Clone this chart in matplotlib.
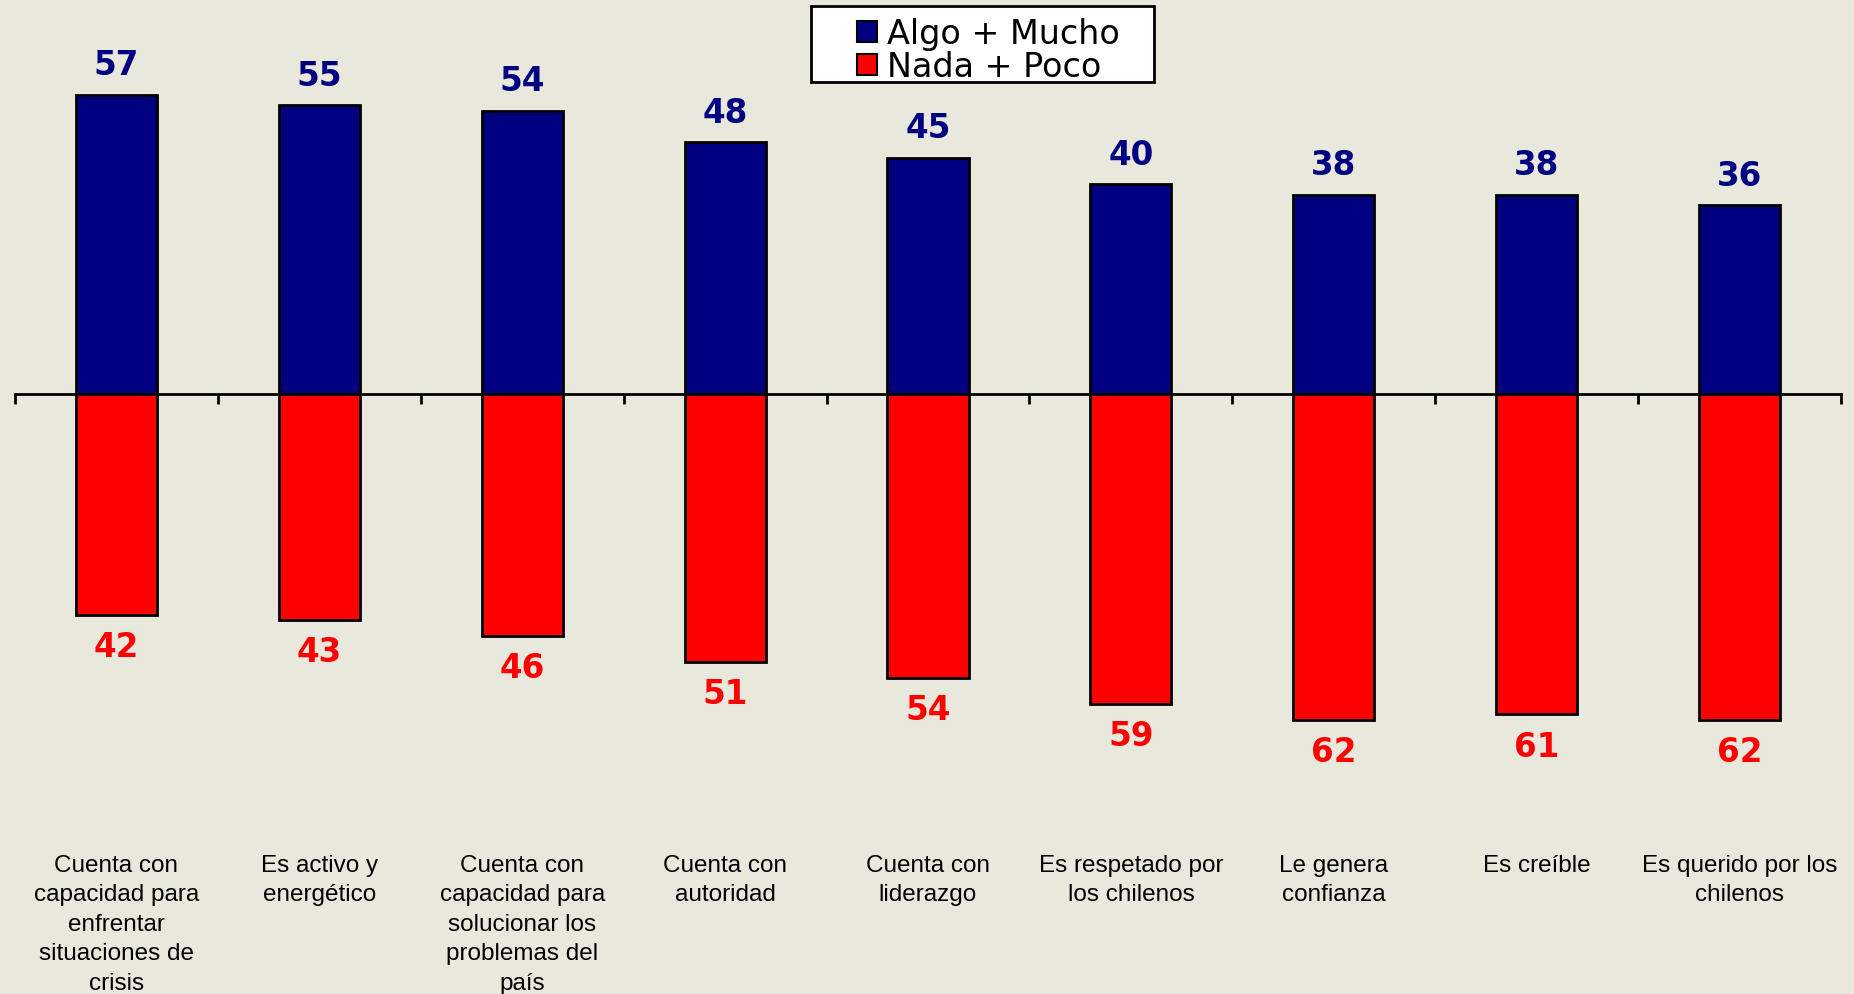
import matplotlib
matplotlib.use("Agg")
import matplotlib.pyplot as plt
from matplotlib.patches import Rectangle, Patch
import numpy as np

categories = [
    "Cuenta con\ncapacidad para\nenfrentar\nsituaciones de\ncrisis",
    "Es activo y\nenergético",
    "Cuenta con\ncapacidad para\nsolucionar los\nproblemas del\npaís",
    "Cuenta con\nautoridad",
    "Cuenta con\nliderazgo",
    "Es respetado por\nlos chilenos",
    "Le genera\nconfianza",
    "Es creíble",
    "Es querido por los\nchilenos",
]
algo_mucho = [57, 55, 54, 48, 45, 40, 38, 38, 36]
nada_poco = [42, 43, 46, 51, 54, 59, 62, 61, 62]
series_names = ["Algo + Mucho", "Nada + Poco"]

BG = "#E9E8DD"
BLUE = "#000080"
RED = "#FF0000"

W, H = 1854, 995
fig = plt.figure(figsize=(W / 100, H / 100), dpi=100, facecolor=BG)
ytop, ybot = 75, -75
ppu = 5.25
top_px = 395 - ytop * ppu
bot_px = 395 - ybot * ppu
ax = fig.add_axes([15 / W, 1 - bot_px / H, (1841 - 15) / W, (bot_px - top_px) / H])
ax.set_facecolor(BG)
ax.patch.set_alpha(0)

x = np.arange(len(categories))
neg = [-v for v in nada_poco]
ax.bar(x, algo_mucho, width=0.4, color=BLUE, edgecolor="black", linewidth=2, zorder=2)
ax.bar(x, neg, width=0.4, color=RED, edgecolor="black", linewidth=2, zorder=2)

ax.set_xlim(-0.5, len(categories) - 0.5)
ax.set_ylim(ybot, ytop)

for s in ["top", "right", "left"]:
    ax.spines[s].set_visible(False)
ax.spines["bottom"].set_position(("data", 0))
ax.spines["bottom"].set_linewidth(2)
ax.spines["bottom"].set_zorder(3)
ax.set_yticks([])

ax.set_xticks(x)
ax.set_xticklabels(categories, fontsize=17.5, family="Liberation Sans", linespacing=1.44,
                   va="top", ha="center")
ax.tick_params(axis="x", which="major", length=0, pad=331)
ax.set_xticks(np.arange(-0.5, len(categories), 1.0), minor=True)
ax.tick_params(axis="x", which="minor", length=7, width=2, direction="out", color="black")

for xi, v in zip(x, algo_mucho):
    ax.annotate(f"{v}", (xi, v), xytext=(0, 21.5), textcoords="offset points",
                ha="center", va="center", fontsize=23.5, fontweight="bold", color=BLUE)
for xi, v in zip(x, neg):
    ax.annotate(f"{-v}", (xi, v), xytext=(0, -23), textcoords="offset points",
                ha="center", va="center", fontsize=23.5, fontweight="bold", color=RED)

fig.patches.append(Rectangle((811 / W, 1 - 83 / H), (1154 - 811) / W, (83 - 7) / H,
                             transform=fig.transFigure, facecolor="white",
                             edgecolor="black", linewidth=2, zorder=5))
handles = [Patch(facecolor=BLUE, edgecolor="black", linewidth=1.5),
           Patch(facecolor=RED, edgecolor="black", linewidth=1.5)]
leg = fig.legend(handles, series_names, loc="center left",
                 bbox_to_anchor=(840 / W, 1 - 51 / H), frameon=False,
                 fontsize=24, handlelength=0.6, handleheight=0.6,
                 handletextpad=0.3, labelspacing=0.0, borderpad=0.0)
leg.set_zorder(6)

fig.savefig("out.png", dpi=100, facecolor=BG)
